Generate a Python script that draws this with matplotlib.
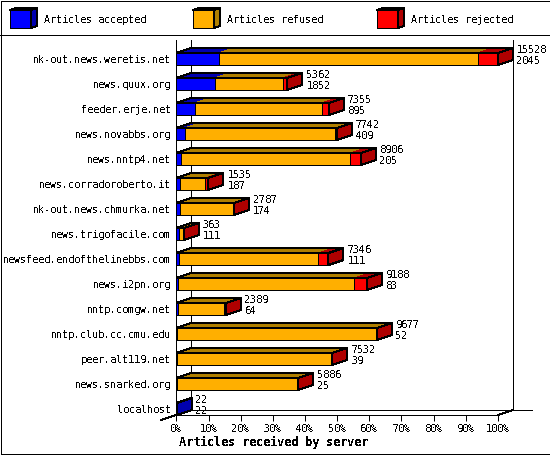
import numpy as np
import matplotlib
matplotlib.use('Agg')
import matplotlib.pyplot as plt
from matplotlib.patches import Polygon, Rectangle

plt.rcParams['font.family'] = 'DejaVu Sans Mono'
plt.rcParams['text.antialiased'] = False
plt.rcParams['text.hinting'] = 'force_autohint'
plt.rcParams['text.hinting_factor'] = 1

servers = ['nk-out.news.weretis.net', 'news.quux.org', 'feeder.erje.net', 'news.novabbs.org',
           'news.nntp4.net', 'news.corradoroberto.it', 'nk-out.news.chmurka.net', 'news.trigofacile.com',
           'newsfeed.endofthelinebbs.com', 'news.i2pn.org', 'nntp.comgw.net', 'nntp.club.cc.cmu.edu',
           'peer.alt119.net', 'news.snarked.org', 'localhost']
received = np.array([15528, 5362, 7355, 7742, 8906, 1535, 2787, 363, 7346, 9188, 2389, 9677, 7532, 5886, 22])
accepted = np.array([2045, 1852, 895, 409, 205, 187, 174, 111, 111, 83, 64, 52, 39, 25, 22])
rejected = np.array([966, 215, 340, 80, 500, 150, 15, 10, 490, 600, 80, 30, 70, 10, 0])
refused = received - accepted - rejected

legend_names = ['Articles accepted', 'Articles refused', 'Articles rejected']
front_colors = ['#0000ff', '#ffaf00', '#ff0000']
dark_colors = ['#0000af', '#af7f00', '#af0000']
pct_ticks = list(range(0, 101, 10))

LW = 0.72
FS = 7.4
fig = plt.figure(figsize=(5.5, 4.55), dpi=100)

# frame, separator and legend, in pixels
layer = fig.add_axes([0, 0, 1, 1])
layer.set_xlim(0, 550)
layer.set_ylim(455, 0)
layer.axis('off')
layer.add_patch(Rectangle((0.5, 0.5), 549, 453.5, fill=False, ec='black', lw=LW, aa=False))
layer.plot([0, 550], [35, 35], color='black', lw=LW, aa=False)
for bx, name, fc, dc in zip([10, 193, 377], legend_names, front_colors, dark_colors):
    layer.add_patch(Rectangle((bx, 10), 21, 18, fc=fc, ec='black', lw=LW, aa=False))
    layer.add_patch(Polygon([(bx + 21, 10), (bx + 27, 8), (bx + 27, 26), (bx + 21, 28)], fc=dc, ec='black', lw=LW, aa=False))
    layer.add_patch(Polygon([(bx, 10), (bx + 6, 8), (bx + 27, 8), (bx + 21, 10)], fc=dc, ec='black', lw=LW, aa=False))
    layer.text(bx + 34, 20, name, fontsize=FS, va='center')

ax = fig.add_axes([176.4 / 550, 40 / 455, 321.5 / 550, 375 / 455])
ax.patch.set_alpha(0)
top = received.max()
ax.set_xlim(0, top)
ax.set_ylim(14.24, -0.76)
dx = 15 / 321.5 * top
dy = 0.2
half = 0.24

for s in ['top', 'right']:
    ax.spines[s].set_visible(False)
for s in ['left', 'bottom']:
    ax.spines[s].set_linewidth(LW)
    ax.spines[s].set_antialiased(False)

ax.set_xticks([top * p / 100 for p in pct_ticks])
ax.set_xticklabels(['%d%%' % p for p in pct_ticks], fontsize=FS)
ax.set_yticks(range(len(servers)))
ax.set_yticklabels(servers, fontsize=FS)
ax.tick_params(axis='x', length=4.3, width=LW, pad=2.5)
ax.tick_params(axis='y', length=0, pad=3.6)
ax.set_xlabel('Articles received by server', fontsize=8.8, fontweight='bold', va='center')
ax.xaxis.set_label_coords(0.302, -0.072)

# back wall and floor
floor = 14.24 - dy
line = dict(color='black', lw=LW, aa=False, clip_on=False, zorder=1)
ax.plot([dx, dx], [floor, -0.76], **line)
ax.plot([top + dx, top + dx], [floor, -0.76], **line)
ax.plot([dx, top + 34.5 / 321.5 * top], [floor, floor], **line)
ax.plot([-dx, 0], [14.24 + dy, 14.24], **line)
ax.plot([top, top + dx], [14.24, floor], **line)

# stacked 3d bars
for i in range(len(servers)):
    left = 0
    last = None
    for vals, fc, dc in zip([accepted, refused, rejected], front_colors, dark_colors):
        v = vals[i]
        if v <= 0:
            continue
        ax.barh(i, v, left=left, height=half * 2, color=fc, edgecolor='black', linewidth=LW,
                antialiased=False, zorder=4, clip_on=False)
        ax.add_patch(Polygon([(left, i - half), (left + dx, i - half - dy), (left + v + dx, i - half - dy), (left + v, i - half)],
                             fc=dc, ec='none', aa=False, zorder=3, clip_on=False))
        left += v
        last = dc
    ax.add_patch(Polygon([(0, i - half), (dx, i - half - dy), (left + dx, i - half - dy), (left, i - half)],
                         fill=False, ec='black', lw=LW, aa=False, zorder=3, clip_on=False))
    ax.add_patch(Polygon([(left, i - half), (left + dx, i - half - dy), (left + dx, i + half - dy), (left, i + half)],
                         fc=last, ec='black', lw=LW, aa=False, zorder=5, clip_on=False))
    ax.annotate(str(received[i]), (left, i), xytext=(19, 9), textcoords='offset pixels', fontsize=FS, va='center')
    ax.annotate(str(accepted[i]), (left, i), xytext=(19, -2), textcoords='offset pixels', fontsize=FS, va='center')

fig.savefig('out.png', dpi=100)
